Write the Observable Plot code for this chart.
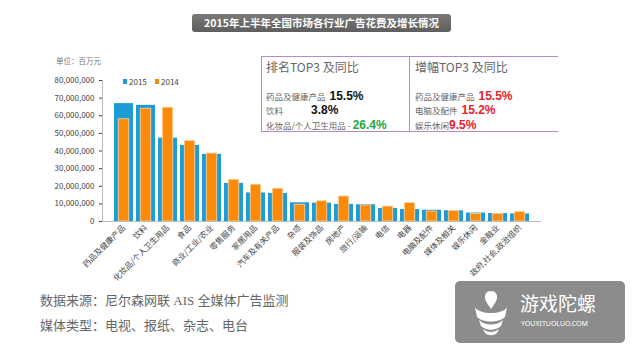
<!DOCTYPE html>
<html>
<head>
<meta charset="utf-8">
<script src="https://cdn.jsdelivr.net/npm/d3@7"></script>
<script src="https://cdn.jsdelivr.net/npm/@observablehq/plot@0.6"></script>
<style>
  html, body { margin: 0; padding: 0; background: #fff; }
  #wrap { position: relative; width: 640px; height: 353px; overflow: hidden; font-family: "Noto Sans CJK SC", "Noto Sans", sans-serif; }
  #chart { position: absolute; left: 0; top: 0; }
  .abs { position: absolute; white-space: nowrap; }
  #title { left: 192px; top: 14px; width: 259px; height: 18px; border-radius: 3px;
    background: linear-gradient(#7a7a7a, #5e5e5e); color: #fff; font-weight: bold; font-size: 10.5px;
    line-height: 18px; text-align: center; }
  #unit { left: 56px; top: 55px; font-size: 7.5px; color: #777; }
  .leg { font-size: 8px; color: #444; top: 77px; line-height: 10px; }
  .sw { position: absolute; width: 4px; height: 5px; top: 79px; }
  #boxL { left: 261px; top: 56px; width: 147px; height: 74px; border: 1px solid #b88ac4; }
  #boxR { left: 409px; top: 56px; width: 149px; height: 74px; border-top: 1px solid #b88ac4; border-bottom: 1px solid #b88ac4; }
  .bt { font-size: 12px; color: #666; }
  .row { line-height: 14px; height: 14px; }
  .it { font-size: 8.5px; color: #666; }
  .num { font-family: "Liberation Sans", Arial, sans-serif; font-size: 12px; font-weight: bold; line-height: 14px; }
  .foot { left: 40px; font-family: "Liberation Serif", "Noto Sans CJK SC", serif; font-size: 13px; color: #666; }
  #wm { left: 455px; top: 281px; width: 170px; height: 62px; border-radius: 5px; background: #8c8c8c; }
</style>
</head>
<body>
<div id="wrap">
  <div id="chart"></div>
  <div id="title" class="abs"></div>
  <div id="unit" class="abs"></div>
  <div id="legend"></div>
  <div id="boxL" class="abs"></div>
  <div id="boxR" class="abs"></div>
  <div id="boxes"></div>
  <div id="foot"></div>
  <div id="wm" class="abs">
    <svg width="170" height="62" style="position:absolute;left:0;top:0">
      <path d="M36 10 C30 10 28 16 32 22 L36 28 L40 22 C44 16 42 10 36 10 Z" fill="#fff"/>
      <path d="M20 26 C24 34 48 34 52 26 L50 36 C44 42 28 42 22 36 Z" fill="#fff"/>
      <path d="M24 39 C30 45 42 45 48 39 L46 45 C40 50 32 50 26 45 Z" fill="#fff"/>
      <path d="M28 48 C33 52 39 52 44 48 L42 52 C38 55 34 55 30 52 Z" fill="#fff"/>
      <text x="65" y="30" fill="#fff" font-size="19" font-family="Noto Sans CJK SC">游戏陀螺</text>
      <text x="66" y="45" fill="#fff" font-size="7" font-family="Noto Sans">YOUXITUOLUO.COM</text>
    </svg>
  </div>
</div>
<script>
const categories = ["药品及健康产品", "饮料", "化妆品/个人卫生用品", "食品", "商业/工业/农业", "零售服务", "家居用品", "汽车及有关产品", "杂项", "服装及饰品", "房地产", "旅行/运输", "电信", "电器", "电脑及配件", "媒体及相关", "娱乐休闲", "金融业", "政府,社会,政治组织"];
const values2015 = [66900000, 65900000, 47300000, 43200000, 38100000, 21600000, 16200000, 15900000, 10600000, 10400000, 9700000, 9500000, 7400000, 6800000, 6400000, 6100000, 4800000, 4500000, 4300000];
const values2014 = [58000000, 64000000, 64600000, 45600000, 38600000, 23700000, 20900000, 18600000, 9500000, 11500000, 14200000, 9100000, 8500000, 10500000, 5700000, 5900000, 4300000, 4300000, 5400000];
const yTicks = [0, 10000000, 20000000, 30000000, 40000000, 50000000, 60000000, 70000000, 80000000];
const seriesNames = ["2015", "2014"];
const titleText = "2015年上半年全国市场各行业广告花费及增长情况";
const unitText = "单位：百万元";
const rankTitle = "排名TOP3 及同比";
const rankItems = ["药品及健康产品", "饮料", "化妆品/个人卫生用品 -"];
const rankValues = ["15.5%", "3.8%", "26.4%"];
const growthTitle = "增幅TOP3 及同比";
const growthItems = ["药品及健康产品", "电脑及配件", "娱乐休闲"];
const growthValues = ["15.5%", "15.2%", "9.5%"];
const footLines = ["数据来源：尼尔森网联 AIS 全媒体广告监测", "媒体类型：电视、报纸、杂志、电台"];

const BLUE = "#1e9ad6", ORANGE = "#fb8a0a";

const d15 = categories.map((c, i) => ({cat: c, value: values2015[i]}));
const d14 = categories.map((c, i) => ({cat: c, value: values2014[i]}));

const chart = Plot.plot({
  width: 640, height: 353,
  marginLeft: 102, marginRight: 99, marginTop: 80, marginBottom: 132,
  style: {background: "transparent", fontFamily: "'Noto Sans CJK SC', 'Noto Sans', sans-serif"},
  x: {domain: categories, padding: 0.15, label: null},
  y: {domain: [0, 80000000], label: null},
  marks: [
    Plot.axisY({ticks: yTicks, tickFormat: d3.format(","), tickSize: 3, tickPadding: 5, fontSize: 8, color: "#444", label: null}),
    Plot.axisX({tickRotate: -45, tickSize: 0, tickPadding: 5, fontSize: 8, color: "#444", label: null}),
    Plot.barY(d15, {x: "cat", y: "value", fill: BLUE}),
    Plot.barY(d14, {x: "cat", y: "value", fill: ORANGE, insetLeft: 4.25, insetRight: 4.25, stroke: "#ffd9a6", strokeWidth: 0.8}),
    Plot.ruleY([0], {stroke: "#bbb"}),
    Plot.frame({anchor: "left", stroke: "#bbb"})
  ]
});
document.getElementById("chart").appendChild(chart);

document.getElementById("title").textContent = titleText;
document.getElementById("unit").textContent = unitText;

function add(parent, cls, style, html) {
  const d = document.createElement("div");
  d.className = "abs " + cls;
  Object.assign(d.style, style);
  d.innerHTML = html;
  document.getElementById(parent).appendChild(d);
  return d;
}
// legend
add("legend", "sw", {left: "123px", background: BLUE}, "");
add("legend", "leg", {left: "129px"}, seriesNames[0]);
add("legend", "sw", {left: "155px", background: ORANGE}, "");
add("legend", "leg", {left: "161px"}, seriesNames[1]);

// boxes
add("boxes", "bt", {left: "266px", top: "58px"}, rankTitle);
add("boxes", "bt", {left: "415px", top: "58px"}, growthTitle);
const rowTops = [85.5, 100, 114.5];
const rankColors = ["#111", "#111", "#22a83a"];
const rankGap = [4, 28, 2];
rankItems.forEach((t, i) => {
  add("boxes", "row", {left: "266px", top: rowTops[i] + "px"},
    `<span class="it">${t}</span><span class="num" style="color:${rankColors[i]};margin-left:${rankGap[i]}px">${rankValues[i]}</span>`);
});
const growthGap = [4, 4, 0];
growthItems.forEach((t, i) => {
  add("boxes", "row", {left: "415px", top: rowTops[i] + "px"},
    `<span class="it">${t}</span><span class="num" style="color:#e8202e;margin-left:${growthGap[i]}px">${growthValues[i]}</span>`);
});

// footer
add("foot", "foot", {top: "290px"}, footLines[0]);
add("foot", "foot", {top: "315px"}, footLines[1]);
</script>
</body>
</html>
